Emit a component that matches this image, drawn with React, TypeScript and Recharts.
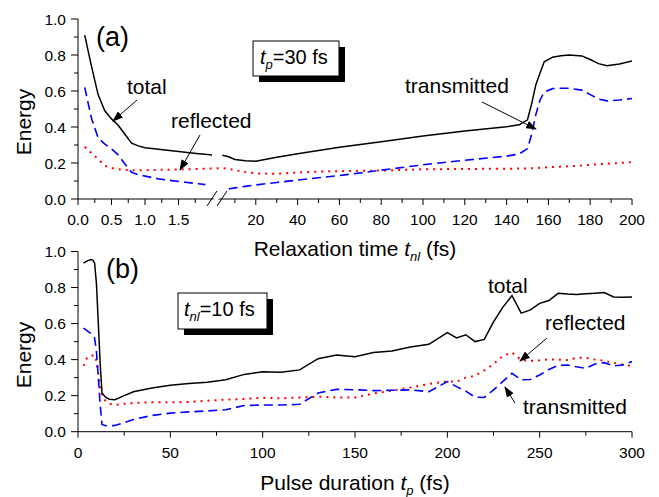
import { LineChart, Line, XAxis, YAxis } from "recharts"

const FONT = "'Liberation Sans', Arial, Helvetica, sans-serif"

// panel (a), left part of the broken axis: relaxation time 0..2 fs
const aLeftTime = [0.1, 0.2, 0.3, 0.4, 0.5, 0.6, 0.7, 0.8, 0.9, 1.0, 1.2, 1.4, 1.6, 1.8, 1.9, 2.0]
const aLeftTotal = [0.91, 0.74, 0.58, 0.49, 0.445, 0.41, 0.36, 0.31, 0.295, 0.285, 0.276, 0.268, 0.26, 0.252, 0.248, 0.245]
const aLeftReflected = [0.29, 0.255, 0.222, 0.185, 0.172, 0.165, 0.162, 0.16, 0.16, 0.16, 0.162, 0.163, 0.165, 0.167, 0.168, 0.17]
const aLeftTransmitted = [0.62, 0.45, 0.34, 0.305, 0.278, 0.245, 0.195, 0.148, 0.135, 0.127, 0.112, 0.102, 0.093, 0.085, 0.08, null]

// panel (a), right part of the broken axis: relaxation time 0..200 fs
const aRightTime = [4, 7, 10, 15, 20, 30, 40, 50, 60, 80, 100, 120, 140, 146, 150, 152, 154, 156, 158, 162, 166, 170, 176, 180, 184, 188, 194, 200]
const aRightTotal = [0.243, 0.235, 0.22, 0.213, 0.21, 0.232, 0.252, 0.27, 0.287, 0.318, 0.35, 0.378, 0.402, 0.412, 0.44, 0.53, 0.635, 0.7, 0.762, 0.788, 0.796, 0.8, 0.795, 0.775, 0.752, 0.74, 0.75, 0.767]
const aRightReflected = [0.172, 0.168, 0.16, 0.15, 0.142, 0.14, 0.147, 0.152, 0.155, 0.158, 0.165, 0.167, 0.168, 0.169, 0.17, 0.171, 0.172, 0.173, 0.175, 0.178, 0.18, 0.182, 0.186, 0.19, 0.193, 0.196, 0.2, 0.205]
const aRightTransmitted = [null, 0.056, 0.062, 0.07, 0.078, 0.092, 0.105, 0.118, 0.13, 0.16, 0.19, 0.215, 0.238, 0.25, 0.28, 0.36, 0.47, 0.55, 0.595, 0.613, 0.615, 0.615, 0.605, 0.58, 0.555, 0.545, 0.55, 0.558]

// panel (b): pulse duration in fs
const bTime = [3, 5, 7, 8, 9, 10, 11, 12, 13, 15, 17, 20, 25, 30, 40, 50, 60, 70, 80, 90, 100, 110, 120, 130, 140, 150, 160, 170, 180, 190, 200, 205, 210, 215, 220, 225, 230, 235, 240, 245, 250, 255, 260, 265, 270, 275, 280, 285, 290, 295, 300]
const bTotal = [0.935, 0.948, 0.955, 0.952, 0.935, 0.82, 0.6, 0.38, 0.215, 0.19, 0.18, 0.178, 0.2, 0.222, 0.242, 0.258, 0.268, 0.275, 0.288, 0.318, 0.332, 0.33, 0.343, 0.405, 0.425, 0.416, 0.44, 0.448, 0.47, 0.485, 0.55, 0.52, 0.538, 0.5, 0.512, 0.61, 0.69, 0.755, 0.658, 0.676, 0.712, 0.728, 0.768, 0.764, 0.762, 0.765, 0.768, 0.772, 0.748, 0.746, 0.747]
const bReflected = [0.365, 0.413, 0.42, 0.423, 0.425, 0.39, 0.32, 0.25, 0.2, 0.168, 0.155, 0.148, 0.155, 0.16, 0.163, 0.163, 0.165, 0.172, 0.178, 0.182, 0.188, 0.185, 0.19, 0.194, 0.19, 0.19, 0.212, 0.228, 0.245, 0.265, 0.28, 0.278, 0.3, 0.31, 0.34, 0.375, 0.42, 0.44, 0.398, 0.393, 0.396, 0.402, 0.4, 0.398, 0.41, 0.41, 0.4, 0.394, 0.382, 0.372, 0.365]
const bTransmitted = [0.575, 0.56, 0.545, 0.535, 0.52, 0.445, 0.3, 0.15, 0.04, 0.033, 0.032, 0.035, 0.05, 0.068, 0.09, 0.103, 0.11, 0.115, 0.122, 0.145, 0.148, 0.148, 0.152, 0.215, 0.235, 0.233, 0.228, 0.23, 0.232, 0.222, 0.278, 0.25, 0.225, 0.192, 0.19, 0.232, 0.278, 0.324, 0.288, 0.29, 0.315, 0.345, 0.368, 0.37, 0.36, 0.352, 0.376, 0.383, 0.365, 0.37, 0.389]

// ticks
const energyTicks = [0, 0.1, 0.2, 0.3, 0.4, 0.5, 0.6, 0.7, 0.8, 0.9, 1.0]
const aLeftTicks = [0, 0.25, 0.5, 0.75, 1.0, 1.25, 1.5, 1.75]
const aRightTicks = [10, 20, 30, 40, 50, 60, 70, 80, 90, 100, 110, 120, 130, 140, 150, 160, 170, 180, 190, 200]
const bTicks = [0, 25, 50, 75, 100, 125, 150, 175, 200, 225, 250, 275, 300]

// broken axis: left part takes 0..L_END of the width, right part R_START..1
const L_MAX = 2
const R_MAX = 200
const L_END = 0.2419
const R_START = 0.2455
const uLeft = (t: number) => (t / L_MAX) * L_END
const uRight = (t: number) => R_START + (t / R_MAX) * (1 - R_START)

const aData = [
  ...aLeftTime.map((t, i) => ({ u: uLeft(t), total: aLeftTotal[i], reflected: aLeftReflected[i], transmitted: aLeftTransmitted[i] })),
  { u: (L_END + R_START) / 2, total: null, reflected: null, transmitted: null },
  ...aRightTime.map((t, i) => ({ u: uRight(t), total: aRightTotal[i], reflected: aRightReflected[i], transmitted: aRightTransmitted[i] })),
]

const bData = bTime.map((t, i) => ({ t, total: bTotal[i], reflected: bReflected[i], transmitted: bTransmitted[i] }))

const aTickInfo = [
  ...aLeftTicks.map((t) => ({ u: uLeft(t), major: t % 0.5 === 0, label: t.toFixed(1) })),
  ...aRightTicks.map((t) => ({ u: uRight(t), major: t % 20 === 0, label: String(t) })),
]

const TICK_FS = 15.5

function YTick(p: any) {
  const v = p.payload.value as number
  const major = Math.round(v * 10) % 2 === 0
  return (
    <g>
      <line x1={p.x - (major ? 7 : 4)} x2={p.x} y1={p.y} y2={p.y} stroke="#000" />
      {major && (
        <text x={p.x - 12} y={p.y + 5.5} textAnchor="end" fontSize={TICK_FS} fontFamily={FONT} fill="#000">
          {v.toFixed(1)}
        </text>
      )}
    </g>
  )
}

function ATick(p: any) {
  const v = p.payload.value as number
  let info = aTickInfo[0]
  for (const it of aTickInfo) if (Math.abs(it.u - v) < Math.abs(info.u - v)) info = it
  return (
    <g>
      <line x1={p.x} x2={p.x} y1={p.y} y2={p.y + (info.major ? 6 : 4)} stroke="#000" />
      {info.major && (
        <text x={p.x} y={p.y + 26} textAnchor="middle" fontSize={TICK_FS} fontFamily={FONT} fill="#000">
          {info.label}
        </text>
      )}
    </g>
  )
}

function BTick(p: any) {
  const v = p.payload.value as number
  const major = v % 50 === 0
  return (
    <g>
      <line x1={p.x} x2={p.x} y1={p.y} y2={p.y + (major ? 6 : 4)} stroke="#000" />
      {major && (
        <text x={p.x} y={p.y + 26} textAnchor="middle" fontSize={TICK_FS} fontFamily={FONT} fill="#000">
          {v}
        </text>
      )}
    </g>
  )
}

function Series({ xKey }: { xKey: string }) {
  return null
}

export default function App() {
  const lineProps = { type: "linear" as const, dot: false, isAnimationActive: false, activeDot: false }
  return (
    <div style={{ position: "absolute", left: 0, top: 0, width: 659, height: 497, background: "#fff", fontFamily: FONT }}>
      <div style={{ position: "absolute", left: 0, top: 0 }}>
        <LineChart width={659} height={250} data={aData} margin={{ top: 19, right: 27, left: 0, bottom: 31 }}>
          <XAxis dataKey="u" type="number" domain={[0, 1]} ticks={aTickInfo.map((d) => d.u)} interval={0} allowDataOverflow
            height={20} tickSize={0} tickMargin={0} tickLine={false} axisLine={{ stroke: "#000" }} tick={ATick} />
          <YAxis type="number" domain={[0, 1]} ticks={energyTicks} interval={0} allowDataOverflow width={78}
            tickSize={0} tickMargin={0} tickLine={false} axisLine={{ stroke: "#000" }} tick={YTick} />
          <Line {...lineProps} dataKey="reflected" stroke="#ff0000" strokeWidth={2} strokeDasharray="2 5" connectNulls />
          <Line {...lineProps} dataKey="transmitted" stroke="#0000ff" strokeWidth={1.6} strokeDasharray="9 5" />
          <Line {...lineProps} dataKey="total" stroke="#000" strokeWidth={1.5} />
        </LineChart>
      </div>
      <div style={{ position: "absolute", left: 0, top: 240 }}>
        <LineChart width={659} height={257} data={bData} margin={{ top: 11.5, right: 27, left: 0, bottom: 45.3 }}>
          <XAxis dataKey="t" type="number" domain={[0, 300]} ticks={bTicks} interval={0} allowDataOverflow
            height={20} tickSize={0} tickMargin={0} tickLine={false} axisLine={{ stroke: "#000" }} tick={BTick} />
          <YAxis type="number" domain={[0, 1]} ticks={energyTicks} interval={0} allowDataOverflow width={78}
            tickSize={0} tickMargin={0} tickLine={false} axisLine={{ stroke: "#000" }} tick={YTick} />
          <Line {...lineProps} dataKey="reflected" stroke="#ff0000" strokeWidth={2} strokeDasharray="2 5" />
          <Line {...lineProps} dataKey="transmitted" stroke="#0000ff" strokeWidth={1.6} strokeDasharray="9 5" />
          <Line {...lineProps} dataKey="total" stroke="#000" strokeWidth={1.5} />
        </LineChart>
      </div>
      <svg width={659} height={497} style={{ position: "absolute", left: 0, top: 0, pointerEvents: "none" }} fontFamily={FONT}>
        <defs>
          <marker id="ah" markerUnits="userSpaceOnUse" markerWidth={11} markerHeight={8} refX={10} refY={4} orient="auto">
            <path d="M0,0 L11,4 L0,8 z" fill="#000" />
          </marker>
        </defs>
        {/* axis break */}
        <polygon points="209,206 219,191 224,191 214,206" fill="#fff" />
        <line x1={207} y1={206} x2={217} y2={191} stroke="#000" />
        <line x1={217} y1={206} x2={227} y2={191} stroke="#000" />

        {/* panel (a) */}
        <text x={31} y={122} transform="rotate(-90 31 122)" textAnchor="middle" fontSize={21}>Energy</text>
        <text x={355} y={256} textAnchor="middle" fontSize={21}>
          Relaxation time <tspan fontStyle="italic">t</tspan>
          <tspan fontStyle="italic" fontSize={13} dy={5}>nl</tspan>
          <tspan dy={-5}> (fs)</tspan>
        </text>
        <text x={96} y={46} fontSize={27}>(a)</text>
        <rect x={259} y={47} width={86} height={35} fill="#000" />
        <rect x={253} y={41} width={86} height={35} fill="#fff" stroke="#000" />
        <text x={260} y={64} fontSize={20}>
          <tspan fontStyle="italic">t</tspan>
          <tspan fontStyle="italic" fontSize={13} dy={5}>p</tspan>
          <tspan dy={-5}>=30 fs</tspan>
        </text>
        <text x={127} y={94} fontSize={21}>total</text>
        <line x1={137} y1={100} x2={113} y2={121} stroke="#000" markerEnd="url(#ah)" />
        <text x={171} y={128} fontSize={21}>reflected</text>
        <line x1={200} y1={135} x2={180} y2={170} stroke="#000" markerEnd="url(#ah)" />
        <text x={405} y={93} fontSize={21}>transmitted</text>
        <line x1={482} y1={102} x2={536} y2={129} stroke="#000" markerEnd="url(#ah)" />

        {/* panel (b) */}
        <text x={31} y={355} transform="rotate(-90 31 355)" textAnchor="middle" fontSize={21}>Energy</text>
        <text x={355} y={490} textAnchor="middle" fontSize={21}>
          Pulse duration <tspan fontStyle="italic">t</tspan>
          <tspan fontStyle="italic" fontSize={13} dy={5}>p</tspan>
          <tspan dy={-5}> (fs)</tspan>
        </text>
        <text x={106} y={278} fontSize={27}>(b)</text>
        <rect x={184} y={299} width={89} height={36} fill="#000" />
        <rect x={178} y={293} width={89} height={36} fill="#fff" stroke="#000" />
        <text x={184} y={316} fontSize={20}>
          <tspan fontStyle="italic">t</tspan>
          <tspan fontStyle="italic" fontSize={13} dy={5}>nl</tspan>
          <tspan dy={-5}>=10 fs</tspan>
        </text>
        <text x={488} y={293} fontSize={21}>total</text>
        <text x={545} y={330} fontSize={21}>reflected</text>
        <line x1={547} y1={338} x2={520} y2={361} stroke="#000" markerEnd="url(#ah)" />
        <text x={523} y={414} fontSize={21}>transmitted</text>
        <line x1={515} y1={403} x2={505} y2={387} stroke="#000" markerEnd="url(#ah)" />
      </svg>
    </div>
  )
}
